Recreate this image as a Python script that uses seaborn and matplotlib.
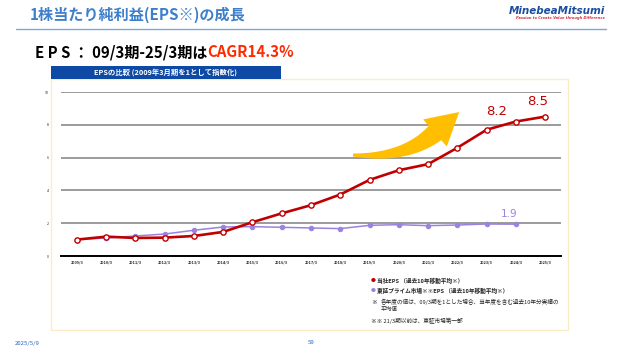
import numpy as np
import pandas as pd
import seaborn as sns
import matplotlib.pyplot as plt
from matplotlib.patches import Rectangle, Polygon
from matplotlib.text import Annotation

years = ["2009/3", "2010/3", "2011/3", "2012/3", "2013/3", "2014/3", "2015/3", "2016/3",
         "2017/3", "2018/3", "2019/3", "2020/3", "2021/3", "2022/3", "2023/3", "2024/3", "2025/3"]
eps_company = [1.0, 1.18, 1.10, 1.12, 1.22, 1.47, 2.06, 2.6, 3.1, 3.75, 4.64, 5.23, 5.6, 6.6, 7.7, 8.2, 8.5]
eps_prime = [1.0, 1.1, 1.22, 1.34, 1.57, 1.77, 1.79, 1.75, 1.71, 1.67, 1.87, 1.91, 1.85, 1.89, 1.95, 1.94]
y_ticks = [0, 2, 4, 6, 8, 10]

RED = "#c00000"
PURPLE = "#9b82e0"
W, H = 622, 350

sns.set_theme(style="white")
plt.rcParams['font.family'] = ['Noto Sans CJK JP', 'DejaVu Sans']


def fx(x):
    return x / W


def fy(y):
    return 1 - y / H


fig = plt.figure(figsize=(6.22, 3.5), dpi=100)

# title and header line
fig.text(fx(30), fy(15), "1株当たり純利益(EPS※)の成長", fontsize=10.9, fontweight="bold",
         color="#3d7fca", va="center", ha="left")
fig.add_artist(plt.Line2D([fx(16), fx(606)], [fy(28.5), fy(28.5)], color="#7ea7d6", lw=1.0))
fig.text(fx(605), fy(11), "MinebeaMitsumi", fontsize=7.5, fontweight="bold", style="italic",
         color="#1b4d9e", ha="right", va="center", family="DejaVu Sans")
fig.text(fx(605), fy(18), "Passion to Create Value through Difference", fontsize=2.6,
         fontweight="bold", style="italic", color="#d0303a", ha="right", va="center",
         family="DejaVu Sans")

# sub heading
t = fig.text(fx(35), fy(57), "E P S ： 09/3期-25/3期は", fontsize=10.8, fontweight="bold",
             color="black", ha="left", va="baseline")
ann = Annotation("CAGR14.3%", xy=(1, 0), xycoords=t, xytext=(0, 0), textcoords="offset points",
                 fontsize=10.8, fontweight="bold", color="#ff2a00", ha="left", va="bottom",
                 annotation_clip=False)
fig.add_artist(ann)

# panel
fig.add_artist(Rectangle((fx(51), fy(330)), fx(568) - fx(51), fy(79) - fy(330),
                         transform=fig.transFigure, facecolor="white", edgecolor="#fbecc6", lw=1.0,
                         zorder=-2))
fig.add_artist(Rectangle((fx(51), fy(79)), fx(281) - fx(51), fy(66) - fy(79),
                         transform=fig.transFigure, facecolor="#0d49a5", edgecolor="none", zorder=-1))
fig.text((fx(51) + fx(281)) / 2, fy(72.5), "EPSの比較 (2009年3月期を1として指数化)", fontsize=5.3,
         fontweight="bold", color="white", ha="center", va="center")

# chart
ax = fig.add_axes([fx(61), fy(256), fx(561) - fx(61), fy(92) - fy(256)])
ax.set_facecolor("none")
df_c = pd.DataFrame({"x": np.arange(len(eps_company)), "y": eps_company})
df_p = pd.DataFrame({"x": np.arange(len(eps_prime)), "y": eps_prime})
sns.lineplot(data=df_p, x="x", y="y", ax=ax, color=PURPLE, lw=1.1, marker="o", markersize=3.2,
             markeredgecolor=PURPLE, markerfacecolor=PURPLE, zorder=3)
sns.lineplot(data=df_c, x="x", y="y", ax=ax, color=RED, lw=1.9, marker="o", markersize=3.8,
             markeredgecolor=RED, markerfacecolor="white", markeredgewidth=1.0, zorder=4)

ax.set_xlim(-0.54, len(years) - 1 + 0.54)
ax.set_ylim(0, 10)
ax.set_yticks(y_ticks)
ax.set_yticklabels([str(v) for v in y_ticks], fontsize=2.6)
ax.set_xticks(range(len(years)))
ax.set_xticklabels(years, fontsize=2.8, fontweight="bold")
ax.tick_params(axis="both", length=0, pad=3)
ax.tick_params(axis="y", pad=9)
ax.grid(axis="y", color="#808080", lw=1.1)
ax.set_axisbelow(True)
for s in ["top", "right", "left"]:
    ax.spines[s].set_visible(False)
ax.spines["bottom"].set_color("black")
ax.spines["bottom"].set_linewidth(1.4)
ax.set_xlabel("")
ax.set_ylabel("")

# value labels
ax.annotate("8.2", (15, eps_company[15]), xytext=(-13.7, 7), textcoords="offset points",
            fontsize=9.5, color=RED, ha="center", va="center", family="DejaVu Sans")
ax.annotate("8.5", (16, eps_company[16]), xytext=(-5.8, 10.6), textcoords="offset points",
            fontsize=9.5, color=RED, ha="center", va="center", family="DejaVu Sans")
ax.annotate("1.9", (15, eps_prime[15]), xytext=(-5, 7.4), textcoords="offset points",
            fontsize=7.5, color=PURPLE, ha="center", va="center", family="DejaVu Sans")

# growth arrow (tapered curved body + head), built in pixel space
A = np.array([353.0, 155.0])
C = np.array([405.0, 159.0])
D = np.array([435.0, 133.0])
ts = np.linspace(0, 1, 40)
pts = [(1 - s) ** 2 * A + 2 * (1 - s) * s * C + s ** 2 * D for s in ts]
tans = [2 * (1 - s) * (C - A) + 2 * s * (D - C) for s in ts]
upper, lower = [], []
for s, p, tg in zip(ts, pts, tans):
    tg = tg / np.linalg.norm(tg)
    nrm = np.array([tg[1], -tg[0]])  # points "up" in image space
    w = 1.5 + 8.0 * s
    upper.append(p + nrm * w)
    lower.append(p - nrm * w)
tg = tans[-1] / np.linalg.norm(tans[-1])
nrm = np.array([tg[1], -tg[0]])
tip = D + 32 * tg
head = [D + nrm * 18, tip, D - nrm * 18]
outline = upper + head + lower[::-1]
outline = [(fx(x), fy(y)) for x, y in outline]
fig.add_artist(Polygon(outline, closed=True, transform=fig.transFigure, facecolor="#ffbf00",
                       edgecolor="none", zorder=10))

# legend notes
fs = 4.1
fig.text(fx(371), fy(281), "●", fontsize=3.5, color=RED, va="center")
fig.text(fx(377), fy(281), "当社EPS （過去10年移動平均※）", fontsize=fs, fontweight="bold", va="center")
fig.text(fx(371), fy(291), "●", fontsize=3.5, color=PURPLE, va="center")
fig.text(fx(377), fy(291), "東証プライム市場※※EPS （過去10年移動平均※）", fontsize=fs, fontweight="bold",
         va="center")
fig.text(fx(371), fy(302), "※", fontsize=fs, va="center")
fig.text(fx(381), fy(302), "各年度の値は、09/3期を1とした場合、当年度を含む過去10年分実績の", fontsize=fs,
         va="center")
fig.text(fx(381), fy(309), "平均値", fontsize=fs, va="center")
fig.text(fx(371), fy(321), "※※ 21/3期以前は、東証市場第一部", fontsize=fs, va="center")

# footer
fig.text(fx(15), fy(343), "2025/5/9", fontsize=4.3, color="#2a62c0", va="center")
fig.text(fx(311), fy(343), "59", fontsize=4.3, color="#2a62c0", va="center", ha="center")

fig.savefig("out.png", dpi=100)
